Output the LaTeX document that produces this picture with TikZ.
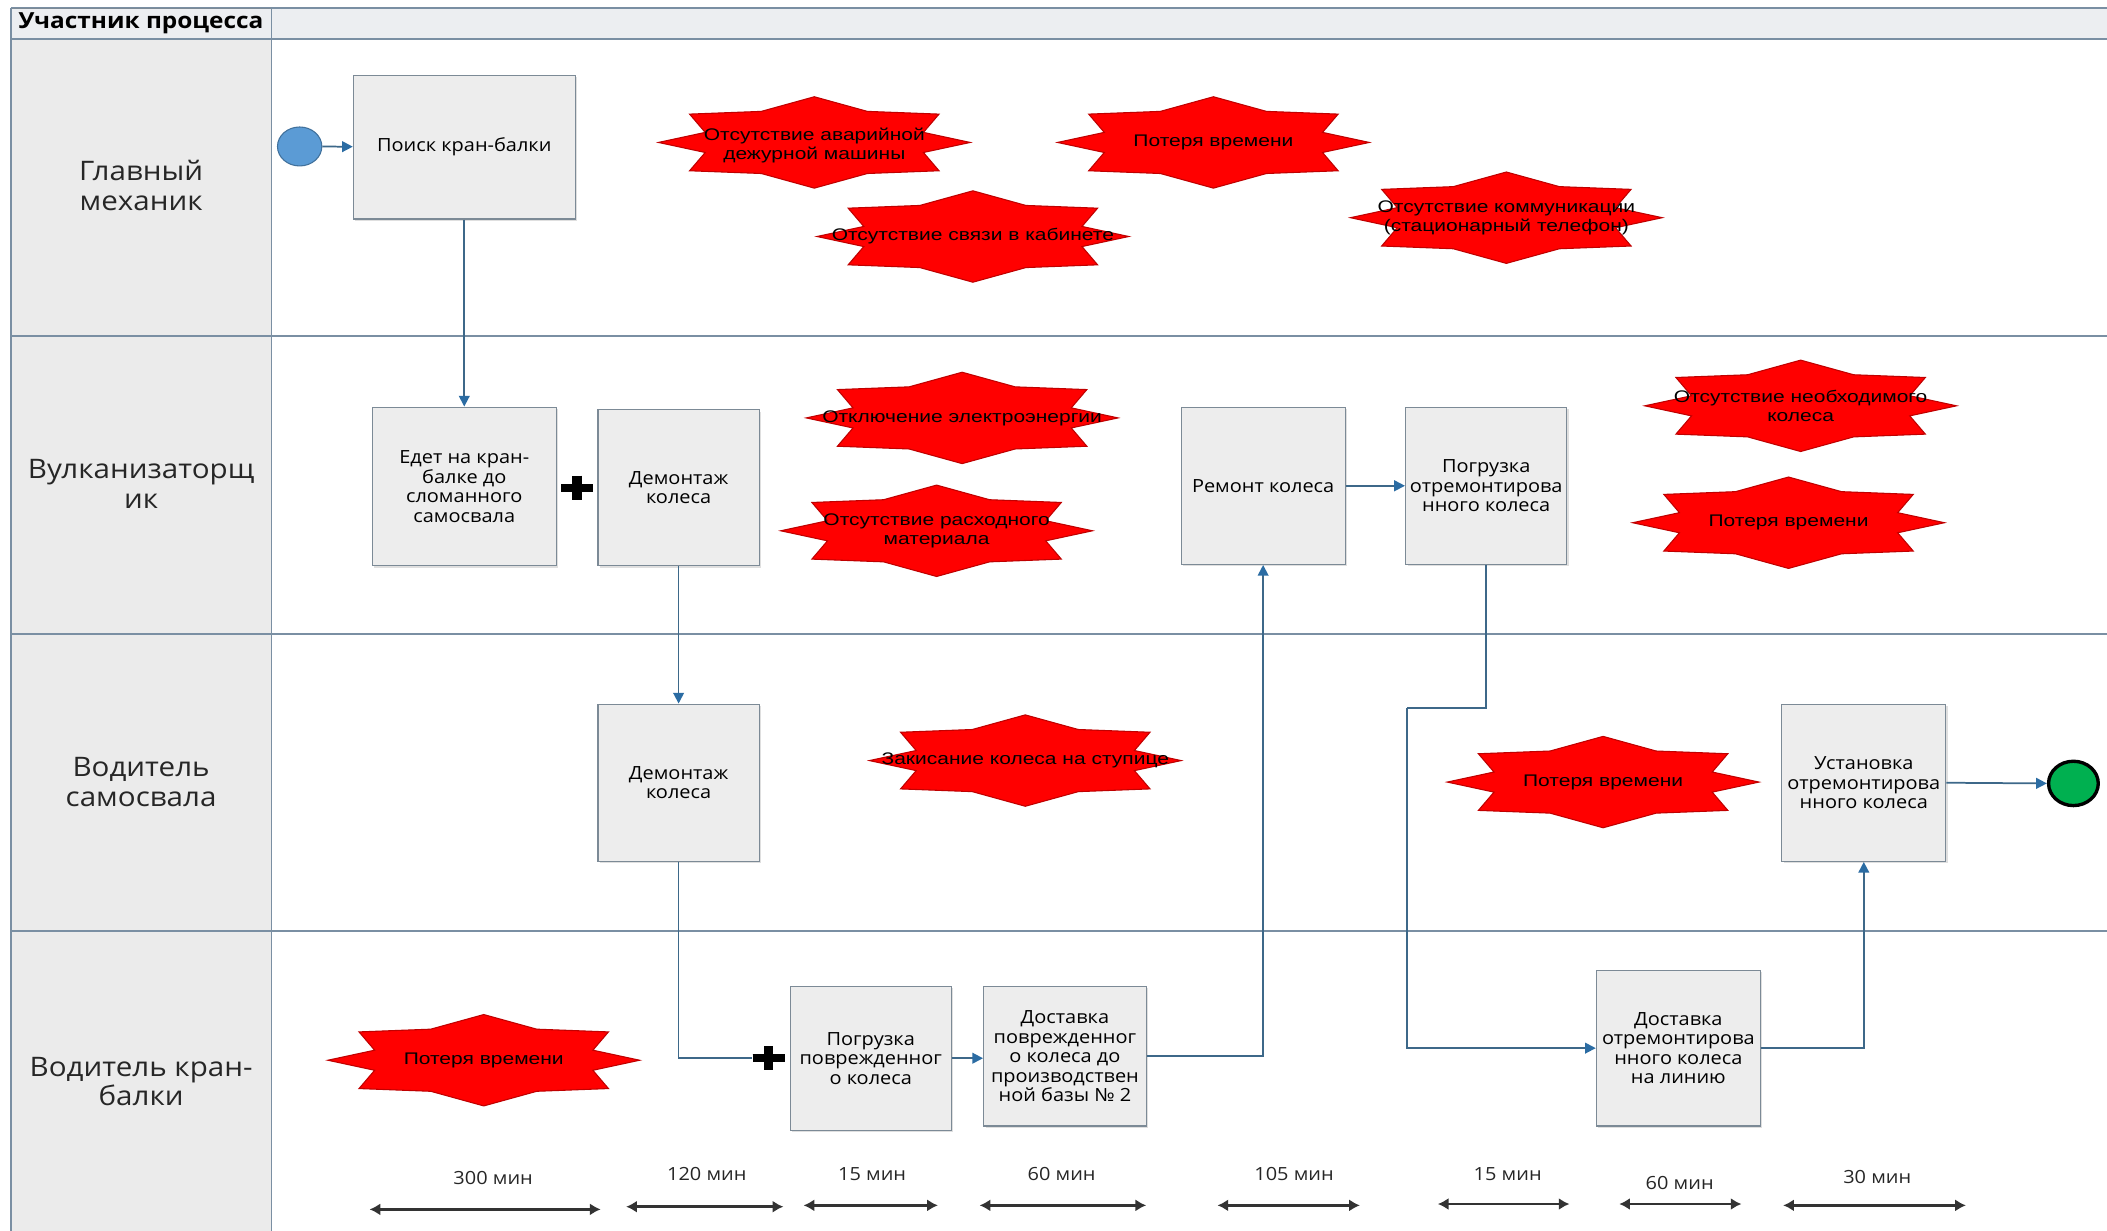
\documentclass[tikz,border=0pt]{standalone}
\usepackage{fontspec}
\setmainfont[FakeStretch=1.1]{Open Sans}
\newfontfamily\starfont[FakeStretch=1.25]{Liberation Sans}
\usetikzlibrary{arrows.meta,shapes.geometric,shadows,calc}
\definecolor{lanebg}{HTML}{EBEBEB}
\definecolor{hdrbg}{HTML}{ECEEF1}
\definecolor{laneline}{HTML}{7A8FA3}
\definecolor{boxfill}{HTML}{EDEDED}
\definecolor{boxline}{HTML}{7C8A96}
\definecolor{flowc}{HTML}{3D6889}
\definecolor{tipc}{HTML}{2B6CA3}
\definecolor{starred}{HTML}{FF0000}
\definecolor{stardark}{HTML}{C00000}
\definecolor{startblue}{HTML}{5B9BD5}
\definecolor{startedge}{HTML}{41719C}
\definecolor{endgreen}{HTML}{00B050}
\tikzset{
  taskbox/.style={rectangle, draw=boxline, fill=boxfill, line width=0.9pt, align=center,
    drop shadow={opacity=0.25, shadow xshift=1.5pt, shadow yshift=-1.5pt},
    font=\fontsize{13.5}{14.5}\selectfont, inner sep=0pt},
  lanelbl/.style={align=center, font=\fontsize{20}{22}\selectfont, text=black!85},
  startext/.style={align=center, font=\starfont\fontsize{12.5}{14}\selectfont, text=black, inner sep=0pt},
  timelbl/.style={font=\fontsize{13.5}{15}\selectfont, text=black!85},
  flow/.style={draw=flowc, line width=1.3pt, -{Triangle[length=8pt,width=8pt,color=tipc]}},
  flowline/.style={draw=flowc, line width=1.3pt},
  dimarrow/.style={draw=black!80, line width=2.2pt, {Latex[length=8pt,width=9pt]}-{Latex[length=8pt,width=9pt]}},
  plusmark/.style={minimum width=24pt, minimum height=20pt, fill=white, inner sep=0pt,
    path picture={\draw[line width=6pt] (path picture bounding box.west) -- (path picture bounding box.east);
      \draw[line width=7pt] ([yshift=-1pt]path picture bounding box.north) -- ([yshift=1pt]path picture bounding box.south);}},
  pics/redstar/.style={code={
    \filldraw[fill=starred, draw=stardark, line width=0.8pt, xscale=116, yscale=34]
      (1,0) -- (0.7,0.22) -- (0.8,0.62) -- (0.34,0.68) -- (0,1) -- (-0.34,0.68) -- (-0.8,0.62) -- (-0.7,0.22)
      -- (-1,0) -- (-0.7,-0.22) -- (-0.8,-0.62) -- (-0.34,-0.68) -- (0,-1) -- (0.34,-0.68) -- (0.8,-0.62) -- (0.7,-0.22) -- cycle;}}
}
\begin{document}
\begin{tikzpicture}[x=1pt, y=-1pt]
\useasboundingbox (0,0) rectangle (1568,916);
\fill[white] (0,0) rectangle (1568,916);
% header band and left column
\fill[hdrbg] (8,6) rectangle (1568,29);
\fill[lanebg] (8,29) rectangle (202,916);
\draw[laneline, line width=1.6pt] (8,6) -- (1568,6);
\node[draw=boxline, fill=hdrbg, line width=0.8pt, minimum width=194pt, minimum height=23pt, inner sep=0pt,
  font=\bfseries\fontsize{16.5}{18}\selectfont] (hdr) at (105,17.5) {Участник процесса};
\foreach \yy in {29,250,472,693} \draw[laneline, line width=1.6pt] (8,\yy) -- (1568,\yy);
\draw[laneline, line width=1.2pt] (8,6) -- (8,916);
\draw[laneline, line width=1.2pt] (202,6) -- (202,916);
% lane labels
\node[lanelbl] (l1) at (105,138) {Главный\\механик};
\node[lanelbl] (l2) at (105,360) {Вулканизаторщ\\ик};
\node[lanelbl] (l3) at (105,582) {Водитель\\самосвала};
\node[lanelbl] (l4) at (105,805) {Водитель кран-\\балки};
% stars
\pic at (606,106) {redstar};
\node[startext] (s1) at (606,108) {Отсутствие аварийной\\дежурной машины};
\pic at (903,106) {redstar};
\node[startext] (s2) at (903,106) {Потеря времени};
\pic at (724,176) {redstar};
\node[startext] (s3) at (724,176) {Отсутствие связи в кабинете};
\pic at (1121,162) {redstar};
\node[startext] (s4) at (1121,162) {Отсутствие коммуникации\\(стационарный телефон)};
\pic at (716,311) {redstar};
\node[startext] (s5) at (716,311) {Отключение электроэнергии};
\pic at (697,395) {redstar};
\node[startext] (s6) at (697,395) {Отсутствие расходного\\материала};
\pic at (1340,302) {redstar};
\node[startext] (s7) at (1340,302) {Отсутствие необходимого\\колеса};
\pic at (1331,389) {redstar};
\node[startext] (s8) at (1331,389) {Потеря времени};
\pic at (763,566) {redstar};
\node[startext] (s9) at (763,566) {Закисание колеса на ступице};
\pic at (1193,582) {redstar};
\node[startext] (s10) at (1193,582) {Потеря времени};
\pic at (360,789) {redstar};
\node[startext] (s11) at (360,789) {Потеря времени};
% events
\node[ellipse, draw=startedge, fill=startblue, line width=0.8pt, minimum width=33pt, minimum height=29pt, inner sep=0pt] (st) at (223,109) {};
\node[ellipse, draw=black, fill=endgreen, line width=2.5pt, minimum width=37pt, minimum height=33pt, inner sep=0pt] (en) at (1543,583) {};
% tasks
\node[taskbox, minimum width=165pt, minimum height=107pt] (b1) at (345.5,109.5) {Поиск кран-балки};
\node[taskbox, minimum width=137pt, minimum height=118pt] (b2) at (345.5,362) {Едет на кран-\\балке до\\сломанного\\самосвала};
\node[taskbox, minimum width=120pt, minimum height=116pt] (b3) at (505,363) {Демонтаж\\колеса};
\node[taskbox, minimum width=120pt, minimum height=117pt] (b4) at (505,582.5) {Демонтаж\\колеса};
\node[taskbox, minimum width=122pt, minimum height=117pt] (b5) at (940,361.5) {Ремонт колеса};
\node[taskbox, minimum width=120pt, minimum height=117pt] (b6) at (1106,361.5) {Погрузка\\отремонтирова\\нного колеса};
\node[taskbox, minimum width=122pt, minimum height=117pt] (b7) at (1387,582.5) {Установка\\отремонтирова\\нного колеса};
\node[taskbox, minimum width=120pt, minimum height=107pt] (b8) at (648,787.5) {Погрузка\\поврежденног\\о колеса};
\node[taskbox, minimum width=121pt, minimum height=104pt] (b9) at (792.5,786) {Доставка\\поврежденног\\о колеса до\\производствен\\ной базы № 2};
\node[taskbox, minimum width=122pt, minimum height=116pt] (b10) at (1249,780) {Доставка\\отремонтирова\\нного колеса\\на линию};
% gateways
\node[plusmark] (g1) at (429.5,363) {};
\node[plusmark] (g2) at (572,787.5) {};
\coordinate (c1) at (1047,527);
% flows
\draw[flow] (st) -- (b1);
\draw[flow] (b1.south) -- (b2.north);
\draw[flow] (b3.south) -- (b4.north);
\draw[flowline] (b4.south) |- (g2.west);
\node[plusmark] at (g2) {};
\draw[flow] (b8.east) -- (b8.east -| b9.west);
\draw[flow] (b9.east) -| (b5.south);
\draw[flow] (b5.east) -- (b5.east -| b6.west);
\draw[flowline] (b6.south) |- (c1);
\draw[flow] (c1) |- (b10.west);
\draw[flow] (b10.east) -| (b7.south);
\draw[flow] (b7.east) -- (en.west);
% time scale
\node[timelbl] (t1) at (367,877) {300 мин};
\node[timelbl] (t2) at (526,874) {120 мин};
\node[timelbl] (t3) at (649,874) {15 мин};
\node[timelbl] (t4) at (790,874) {60 мин};
\node[timelbl] (t5) at (963,874) {105 мин};
\node[timelbl] (t6) at (1122,874) {15 мин};
\node[timelbl] (t7) at (1250,880) {60 мин};
\node[timelbl] (t8) at (1397,876) {30 мин};
\coordinate (a1) at (275,900); \coordinate (a1e) at (447,900);
\coordinate (a2) at (466,898); \coordinate (a2e) at (583,898);
\coordinate (a3) at (598,897); \coordinate (a3e) at (698,897);
\coordinate (a4) at (729,897); \coordinate (a4e) at (853,897);
\coordinate (a5) at (906,897); \coordinate (a5e) at (1012,897);
\coordinate (a6) at (1070,896); \coordinate (a6e) at (1168,896);
\coordinate (a7) at (1205,896); \coordinate (a7e) at (1296,896);
\coordinate (a8) at (1327,897); \coordinate (a8e) at (1463,897);
\foreach \i in {1,...,8} \draw[dimarrow] (a\i) -- (a\i e);
\end{tikzpicture}
\end{document}
